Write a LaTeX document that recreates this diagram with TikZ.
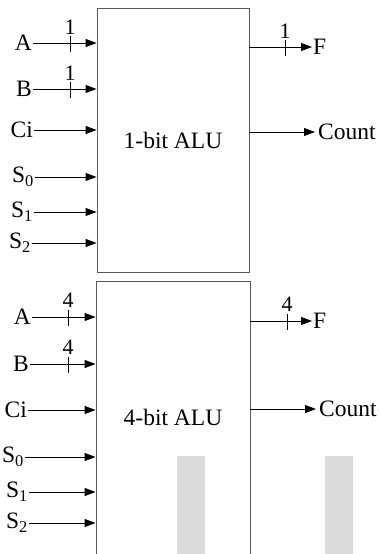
\documentclass[tikz,border=0pt]{standalone}
\usepackage{fontspec}
\setmainfont{Liberation Serif}
\usetikzlibrary{arrows.meta}
\begin{document}
\begin{tikzpicture}[x=1pt,y=-1pt,
  lbl/.style={inner sep=1pt, font=\fontsize{23.5}{26}\selectfont},
  wnum/.style={inner sep=0pt, font=\fontsize{22}{24}\selectfont},
  sig/.style={-{Triangle[length=11pt,width=8pt]}, line width=0.9pt},
  wtick/.style={line width=0.8pt},
  alubox/.style={draw=black!65, line width=0.9pt, inner sep=0pt},
  shade/.style={fill=black!14, draw=none}]
\useasboundingbox (0,0) rectangle (380,554);
\clip (0,0) rectangle (380,554);

% ---------- 1-bit ALU ----------
\node[alubox, minimum width=152pt, minimum height=264pt, lbl] (alu1) at (173,140) {1-bit ALU};

\node[lbl, anchor=east] (a1) at (33,43) {A};
\node[lbl, anchor=east] (b1) at (33,89) {B};
\node[lbl, anchor=east] (c1) at (34,130) {Ci};
\node[lbl, anchor=east] (s01) at (35,177) {S\textsubscript{0}};
\node[lbl, anchor=east] (s11) at (34,212) {S\textsubscript{1}};
\node[lbl, anchor=east] (s21) at (32,243) {S\textsubscript{2}};
\foreach \n in {a1,b1,c1,s01,s11,s21}
  \draw[sig] (\n.east) -- (\n.east -| alu1.west);

\coordinate (ta1) at (70,43);
\coordinate (tb1) at (70,89);
\draw[wtick] ([yshift=-9pt]ta1) -- ([yshift=7pt]ta1);
\draw[wtick] ([yshift=-9pt]tb1) -- ([yshift=7pt]tb1);
\node[wnum] (na1) at (70,27) {1};
\node[wnum] (nb1) at (70,73) {1};

\node[lbl, anchor=west] (f1) at (312,47) {F};
\node[lbl, anchor=west, inner xsep=3pt] (co1) at (315,132) {Count};
\draw[sig] (f1.west -| alu1.east) -- (f1.west);
\draw[sig] (co1.west -| alu1.east) -- (co1.west);
\coordinate (tf1) at (285,47);
\draw[wtick] ([yshift=-9pt]tf1) -- ([yshift=7pt]tf1);
\node[wnum] (nf1) at (285,31) {1};

% ---------- 4-bit ALU ----------
\node[shade, minimum width=28pt, minimum height=98pt, inner sep=0pt] (g1) at (191,505) {};
\node[shade, minimum width=28pt, minimum height=98pt, inner sep=0pt] (g2) at (339,505) {};

\node[alubox, minimum width=154pt, minimum height=330pt] (alu4) at (173,446) {};
\node[lbl] (t4) at (173,417) {4-bit ALU};

\node[lbl, anchor=east] (a4) at (32,317) {A};
\node[lbl, anchor=east] (b4) at (30,364) {B};
\node[lbl, anchor=east] (c4) at (28,410) {Ci};
\node[lbl, anchor=east] (s04) at (25,457) {S\textsubscript{0}};
\node[lbl, anchor=east] (s14) at (29,492) {S\textsubscript{1}};
\node[lbl, anchor=east] (s24) at (29,523) {S\textsubscript{2}};
\foreach \n in {a4,b4,c4,s04,s14,s24}
  \draw[sig] (\n.east) -- (\n.east -| alu4.west);

\coordinate (ta4) at (68,317);
\coordinate (tb4) at (68,364);
\draw[wtick] ([yshift=-9pt]ta4) -- ([yshift=7pt]ta4);
\draw[wtick] ([yshift=-9pt]tb4) -- ([yshift=7pt]tb4);
\node[wnum] (na4) at (68,300) {4};
\node[wnum] (nb4) at (68,347) {4};

\node[lbl, anchor=west] (f4) at (312,321) {F};
\node[lbl, anchor=west, inner xsep=3pt] (co4) at (316,409) {Count};
\draw[sig] (f4.west -| alu4.east) -- (f4.west);
\draw[sig] (co4.west -| alu4.east) -- (co4.west);
\coordinate (tf4) at (287,321);
\draw[wtick] ([yshift=-9pt]tf4) -- ([yshift=7pt]tf4);
\node[wnum] (nf4) at (287,304) {4};
\end{tikzpicture}
\end{document}
